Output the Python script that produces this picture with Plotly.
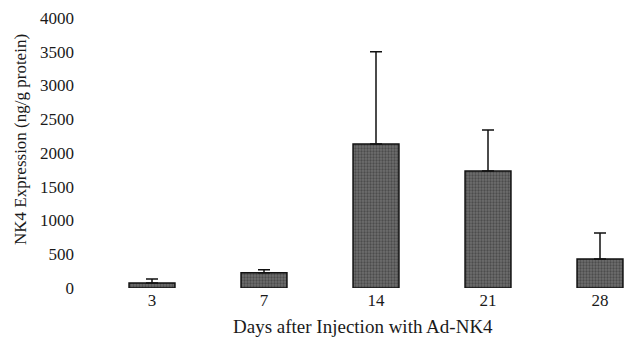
import plotly.graph_objects as go

days = ["3", "7", "14", "21", "28"]
expression = [75, 225, 2135, 1735, 430]
error_up = [60, 45, 1365, 605, 385]
y_ticks = [0, 500, 1000, 1500, 2000, 2500, 3000, 3500, 4000]

FONT = "Liberation Serif, Times New Roman, serif"

L, T, B = 96, 18, 62
PW, PH = 628 - L, 350 - T - B

fig = go.Figure()
fig.add_trace(go.Bar(
    x=days,
    y=expression,
    width=0.41,
    marker=dict(
        color="#5a5a5a",
        line=dict(color="#111111", width=1.5),
        pattern=dict(shape=".", fgcolor="#2a2a2a", bgcolor="#6e6e6e", size=3, solidity=0.45),
    ),
    error_y=dict(type="data", symmetric=False, array=error_up,
                 arrayminus=[0] * len(error_up),
                 color="#111111", thickness=1.5, width=6),
    showlegend=False,
))

fig.update_layout(
    width=628, height=350,
    margin=dict(l=L, r=0, t=T, b=B),
    paper_bgcolor="white", plot_bgcolor="white",
    font=dict(family=FONT, size=17, color="#1a1a1a"),
    xaxis=dict(
        type="category", range=[-0.5, 4.25],
        showgrid=False, zeroline=False, showline=False, ticks="",
        tickfont=dict(size=17),
    ),
    yaxis=dict(
        range=[0, 4000], tickvals=y_ticks,
        showgrid=False, zeroline=False, showline=False, ticks="",
        ticklabelstandoff=21,
        tickfont=dict(size=17),
    ),
    annotations=[
        dict(text="Days after Injection with Ad-NK4", xref="paper", yref="paper",
             x=(363 - L) / PW, y=(T + PH - 326) / PH, showarrow=False,
             xanchor="center", yanchor="middle", font=dict(size=19)),
        dict(text="NK4 Expression (ng/g protein)", xref="paper", yref="paper",
             x=(20 - L) / PW, y=(T + PH - 140) / PH, showarrow=False, textangle=-90,
             xanchor="center", yanchor="middle", font=dict(size=17)),
    ],
)

fig.write_html("out.html")
